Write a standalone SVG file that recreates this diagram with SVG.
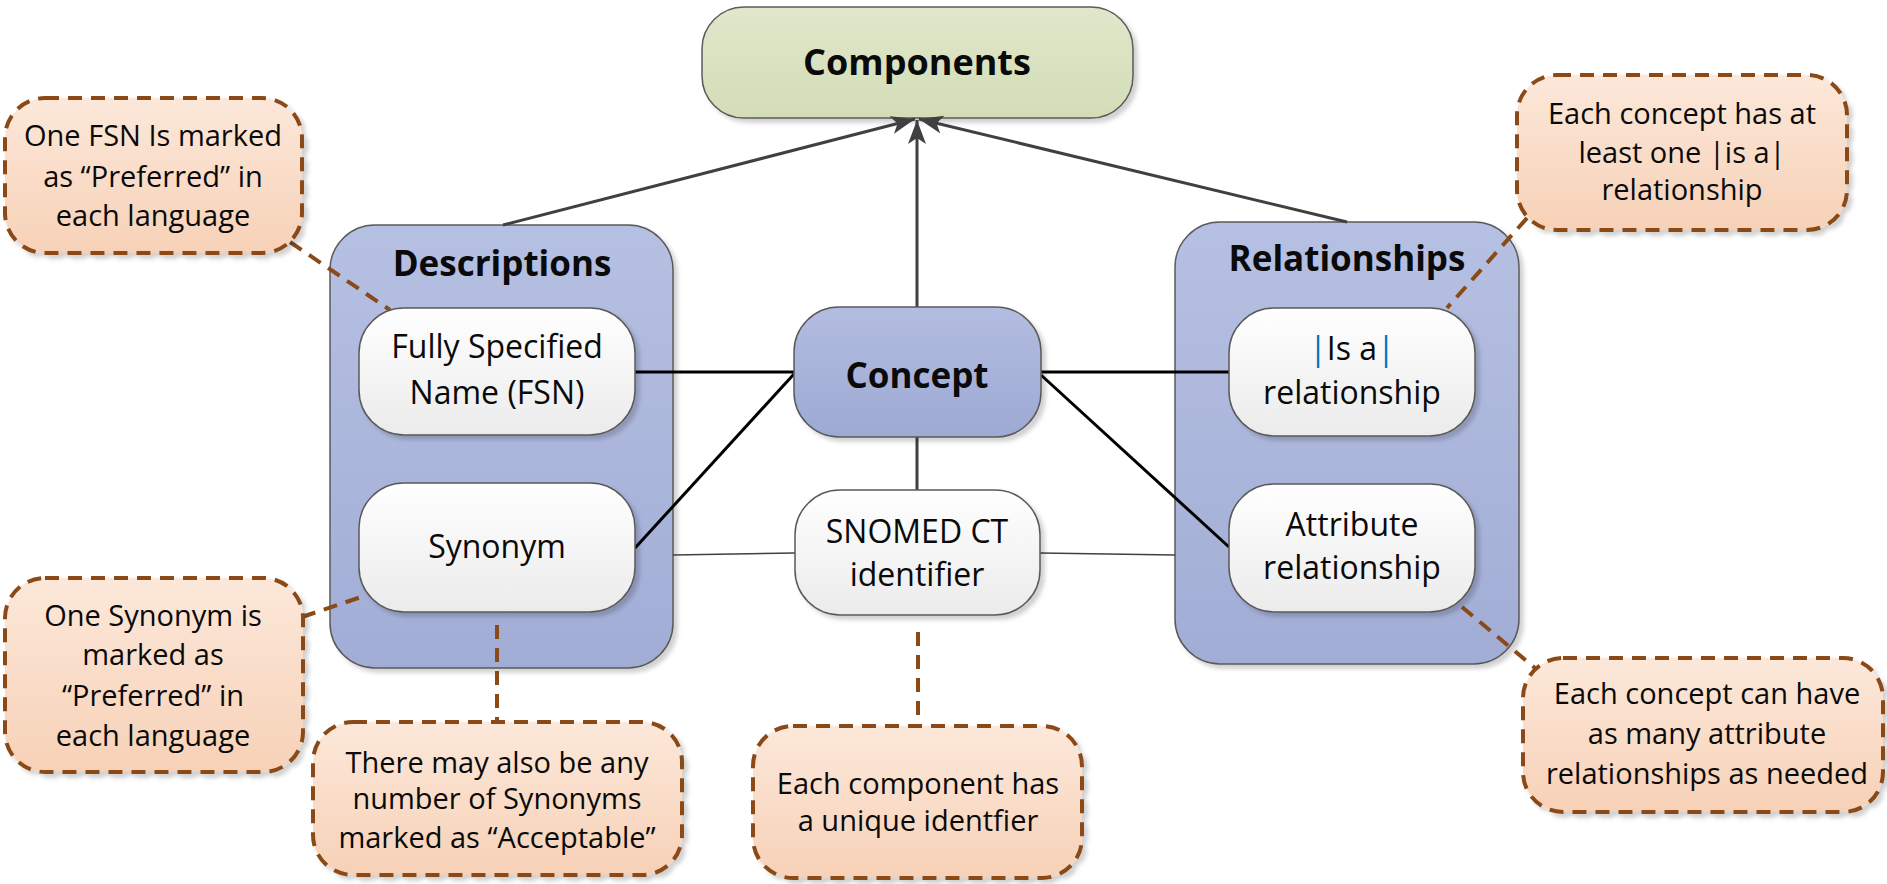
<svg xmlns="http://www.w3.org/2000/svg" width="1887" height="884" viewBox="0 0 1887 884">
<defs>
<linearGradient id="gGreen" x1="0" y1="0" x2="0" y2="1"><stop offset="0" stop-color="#e0e7cb"/><stop offset="1" stop-color="#d3ddb6"/></linearGradient>
<linearGradient id="gBlue" x1="0" y1="0" x2="0" y2="1"><stop offset="0" stop-color="#b6c0e2"/><stop offset="1" stop-color="#a2add6"/></linearGradient>
<linearGradient id="gConcept" x1="0" y1="0" x2="0" y2="1"><stop offset="0" stop-color="#b3bde1"/><stop offset="1" stop-color="#9ea9d4"/></linearGradient>
<linearGradient id="gWhite" x1="0" y1="0" x2="0" y2="1"><stop offset="0" stop-color="#ffffff"/><stop offset="1" stop-color="#ebebeb"/></linearGradient>
<linearGradient id="gOrange" x1="0" y1="0" x2="0" y2="1"><stop offset="0" stop-color="#fce8da"/><stop offset="1" stop-color="#f7d1b7"/></linearGradient>
<filter id="sh" x="-10%" y="-10%" width="130%" height="130%"><feDropShadow dx="4" dy="4" stdDeviation="2" flood-color="#000" flood-opacity="0.18"/></filter>
<marker id="arr" markerUnits="userSpaceOnUse" markerWidth="26" markerHeight="20" refX="24" refY="9" orient="auto"><path d="M0,0 L24,9 L0,18 L6,9 z" fill="#404040"/></marker>
</defs>
<style>
.node{stroke:#5a5a5a;stroke-width:1.5}
.callout{fill:url(#gOrange);stroke:#8a4a17;stroke-width:4;stroke-dasharray:14 9}
.lead{fill:none;stroke:#8a4a17;stroke-width:4;stroke-dasharray:14 9}
.t{font-family:"Open Sans","Noto Sans",sans-serif;fill:#0a0a0a;text-anchor:middle}
.b{font-weight:bold}
.n{font-size:32px}
.c{font-size:29px}
.arrow{stroke:#404040;stroke-width:3;fill:none}
.link{stroke:#000;stroke-width:3;fill:none}
.thin{stroke:#404040;stroke-width:1.5;fill:none}
</style>

<g id="components">
<rect x="702" y="7" width="431" height="111" rx="42" fill="url(#gGreen)" class="node" filter="url(#sh)"/>
<text x="917" y="75" class="t b" font-size="36">Components</text>
</g>

<g id="descriptions">
<rect x="330" y="225" width="343" height="443" rx="45" fill="url(#gBlue)" class="node" filter="url(#sh)"/>
<text x="502" y="276" class="t b" font-size="35">Descriptions</text>
</g>

<g id="relationships">
<rect x="1175" y="222" width="344" height="442" rx="45" fill="url(#gBlue)" class="node" filter="url(#sh)"/>
<text x="1347" y="271" class="t b" font-size="35">Relationships</text>
</g>

<g id="connectors">
<line x1="503" y1="225" x2="915" y2="119" class="arrow" marker-end="url(#arr)"/>
<line x1="917" y1="307" x2="917" y2="120" class="arrow" marker-end="url(#arr)"/>
<line x1="1347" y1="222" x2="919" y2="119" class="arrow" marker-end="url(#arr)"/>
<line x1="635" y1="372" x2="794" y2="372" class="link"/>
<line x1="635" y1="548" x2="794" y2="374" class="link"/>
<line x1="1041" y1="372" x2="1229" y2="372" class="link"/>
<line x1="1041" y1="375" x2="1229" y2="547" class="link"/>
<line x1="917" y1="437" x2="917" y2="490" class="arrow"/>
<line x1="673" y1="555" x2="795" y2="553" class="thin"/>
<line x1="1040" y1="553" x2="1175" y2="555" class="thin"/>
<line x1="290" y1="242" x2="390" y2="310" class="lead"/>
<line x1="302" y1="617" x2="367" y2="595" class="lead"/>
<line x1="497" y1="625" x2="497" y2="722" class="lead"/>
<line x1="918" y1="632" x2="918" y2="726" class="lead"/>
<line x1="1527" y1="218" x2="1447" y2="308" class="lead"/>
<line x1="1462" y1="607" x2="1535" y2="668" class="lead"/>
</g>

<g id="fsn">
<rect x="359" y="308" width="276" height="127" rx="45" fill="url(#gWhite)" class="node" filter="url(#sh)"/>
<text x="497" y="358" class="t n">Fully Specified</text>
<text x="497" y="404" class="t n">Name (FSN)</text>
</g>

<g id="synonym">
<rect x="359" y="483" width="276" height="129" rx="45" fill="url(#gWhite)" class="node" filter="url(#sh)"/>
<text x="497" y="558" class="t n">Synonym</text>
</g>

<g id="concept">
<rect x="794" y="307" width="247" height="130" rx="45" fill="url(#gConcept)" class="node" filter="url(#sh)"/>
<text x="917" y="388" class="t b" font-size="35">Concept</text>
</g>

<g id="snomed">
<rect x="795" y="490" width="245" height="125" rx="45" fill="url(#gWhite)" class="node" filter="url(#sh)"/>
<text x="917" y="543" class="t n">SNOMED CT</text>
<text x="917" y="586" class="t n">identifier</text>
</g>

<g id="isa">
<rect x="1229" y="308" width="246" height="128" rx="45" fill="url(#gWhite)" class="node" filter="url(#sh)"/>
<text x="1352" y="360" class="t n"><tspan fill="#0070c0">|</tspan>Is a<tspan fill="#0070c0">|</tspan></text>
<text x="1352" y="404" class="t n">relationship</text>
</g>

<g id="attribute">
<rect x="1229" y="484" width="246" height="128" rx="45" fill="url(#gWhite)" class="node" filter="url(#sh)"/>
<text x="1352" y="536" class="t n">Attribute</text>
<text x="1352" y="579" class="t n">relationship</text>
</g>

<g id="note-fsn">
<rect x="5" y="98" width="297" height="155" rx="40" class="callout" filter="url(#sh)"/>
<text x="153" y="146" class="t c">One FSN Is marked</text>
<text x="153" y="187" class="t c">as “Preferred” in</text>
<text x="153" y="226" class="t c">each language</text>
</g>

<g id="note-isa">
<rect x="1517" y="75" width="330" height="155" rx="40" class="callout" filter="url(#sh)"/>
<text x="1682" y="124" class="t c">Each concept has at</text>
<text x="1682" y="163" class="t c">least one |is a|</text>
<text x="1682" y="200" class="t c">relationship</text>
</g>

<g id="note-synonym">
<rect x="5" y="578" width="298" height="194" rx="40" class="callout" filter="url(#sh)"/>
<text x="153" y="626" class="t c">One Synonym is</text>
<text x="153" y="665" class="t c">marked as</text>
<text x="153" y="706" class="t c">“Preferred” in</text>
<text x="153" y="746" class="t c">each language</text>
</g>

<g id="note-acceptable">
<rect x="313" y="722" width="369" height="153" rx="40" class="callout" filter="url(#sh)"/>
<text x="497" y="773" class="t c">There may also be any</text>
<text x="497" y="809" class="t c">number of Synonyms</text>
<text x="497" y="848" class="t c">marked as “Acceptable”</text>
</g>

<g id="note-identifier">
<rect x="753" y="726" width="329" height="152" rx="40" class="callout" filter="url(#sh)"/>
<text x="918" y="794" class="t c">Each component has</text>
<text x="918" y="831" class="t c">a unique identfier</text>
</g>

<g id="note-attribute">
<rect x="1523" y="658" width="360" height="154" rx="40" class="callout" filter="url(#sh)"/>
<text x="1707" y="704" class="t c">Each concept can have</text>
<text x="1707" y="744" class="t c">as many attribute</text>
<text x="1707" y="784" class="t c">relationships as needed</text>
</g>
</svg>
